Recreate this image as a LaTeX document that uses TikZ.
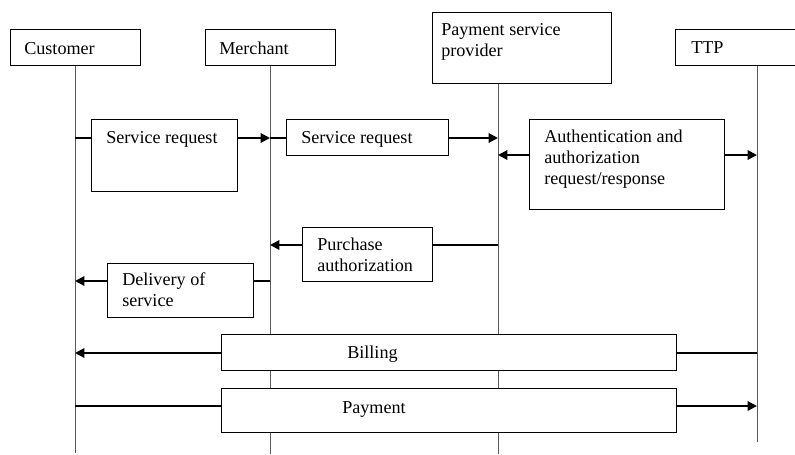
\documentclass[tikz,border=0pt]{standalone}
\usepackage{fontspec}
\setmainfont{Liberation Serif}
\usetikzlibrary{arrows.meta,fit}
\tikzset{
  box/.style={draw,line width=0.6pt,inner sep=0pt,fill=white},
  txt/.style={anchor=base west,align=left,inner sep=0pt,font=\fontsize{13.6}{15.75}\selectfont},
  life/.style={line width=0.6pt,black!65},
  msg/.style={line width=1.5pt},
  tip/.style={-{Triangle[length=7pt,width=7pt]}}
}
\begin{document}
\begin{tikzpicture}[x=0.75pt,y=-0.75pt]
  \useasboundingbox (0,0) rectangle (795,454);
  \clip (0,0) rectangle (795,454);
  % lifelines
  \coordinate (cu) at (75,65);
  \coordinate (me) at (270,65);
  \coordinate (ps) at (498,83);
  \coordinate (tt) at (757,65);
  \draw[life] (cu) -- (cu |- 0,453);
  \draw[life] (me) -- (me |- 0,454);
  \draw[life] (ps) -- (ps |- 0,454);
  \draw[life] (tt) -- (tt |- 0,442);
  % parties
  \node[box,fit={(10,29) (140,65)}] (cust) {};
  \node[box,fit={(205,29) (335,65)}] (merch) {};
  \node[box,fit={(432,12) (611,83)}] (psp) {};
  \node[box,fit={(675,29) (840,65)}] (ttp) {};
  \node[txt] (custt) at (24,54) {Customer};
  \node[txt] (mercht) at (219,54) {Merchant};
  \node[txt] (pspt) at (441,56) {Payment service\\provider};
  \node[txt] (ttpt) at (691,53) {TTP};
  % messages (text anchored at last baseline)
  \node[box,fit={(91,119) (237,191)}] (sr1) {};
  \node[box,fit={(286,119) (448,155)}] (sr2) {};
  \node[box,fit={(529,119) (724,209)}] (auth) {};
  \node[box,fit={(302,227) (432,281)}] (pauth) {};
  \node[box,fit={(107,263) (253,317)}] (deliv) {};
  \node[box,fit={(221,334) (676,370)}] (bill) {};
  \node[box,fit={(221,388) (676,432)}] (pay) {};
  \node[txt] (sr1t) at (106,143) {Service request};
  \node[txt] (sr2t) at (301,143) {Service request};
  \node[txt] (autht) at (544,184) {Authentication and\\authorization\\request/response};
  \node[txt] (pautht) at (317,271) {Purchase\\authorization};
  \node[txt] (delivt) at (122,306) {Delivery of\\service};
  \node[txt] (billt) at (347,358) {Billing};
  \node[txt] (payt) at (342,413) {Payment};
  \draw[msg] (cu |- 0,138) -- (sr1.west |- 0,138);
  \draw[msg,tip] (sr1.east |- 0,138) -- (me |- 0,138);
  \draw[msg] (me |- 0,138) -- (sr2.west |- 0,138);
  \draw[msg,tip] (sr2.east |- 0,138) -- (ps |- 0,138);
  \draw[msg,tip] (auth.west |- 0,155) -- (ps |- 0,155);
  \draw[msg,tip] (auth.east |- 0,155) -- (tt |- 0,155);
  \draw[msg] (ps |- 0,245) -- (pauth.east |- 0,245);
  \draw[msg,tip] (pauth.west |- 0,245) -- (me |- 0,245);
  \draw[msg] (me |- 0,281) -- (deliv.east |- 0,281);
  \draw[msg,tip] (deliv.west |- 0,281) -- (cu |- 0,281);
  \draw[msg] (tt |- 0,353) -- (bill.east |- 0,353);
  \draw[msg,tip] (bill.west |- 0,353) -- (cu |- 0,353);
  \draw[msg] (cu |- 0,406) -- (pay.west |- 0,406);
  \draw[msg,tip] (pay.east |- 0,406) -- (tt |- 0,406);
\end{tikzpicture}
\end{document}
